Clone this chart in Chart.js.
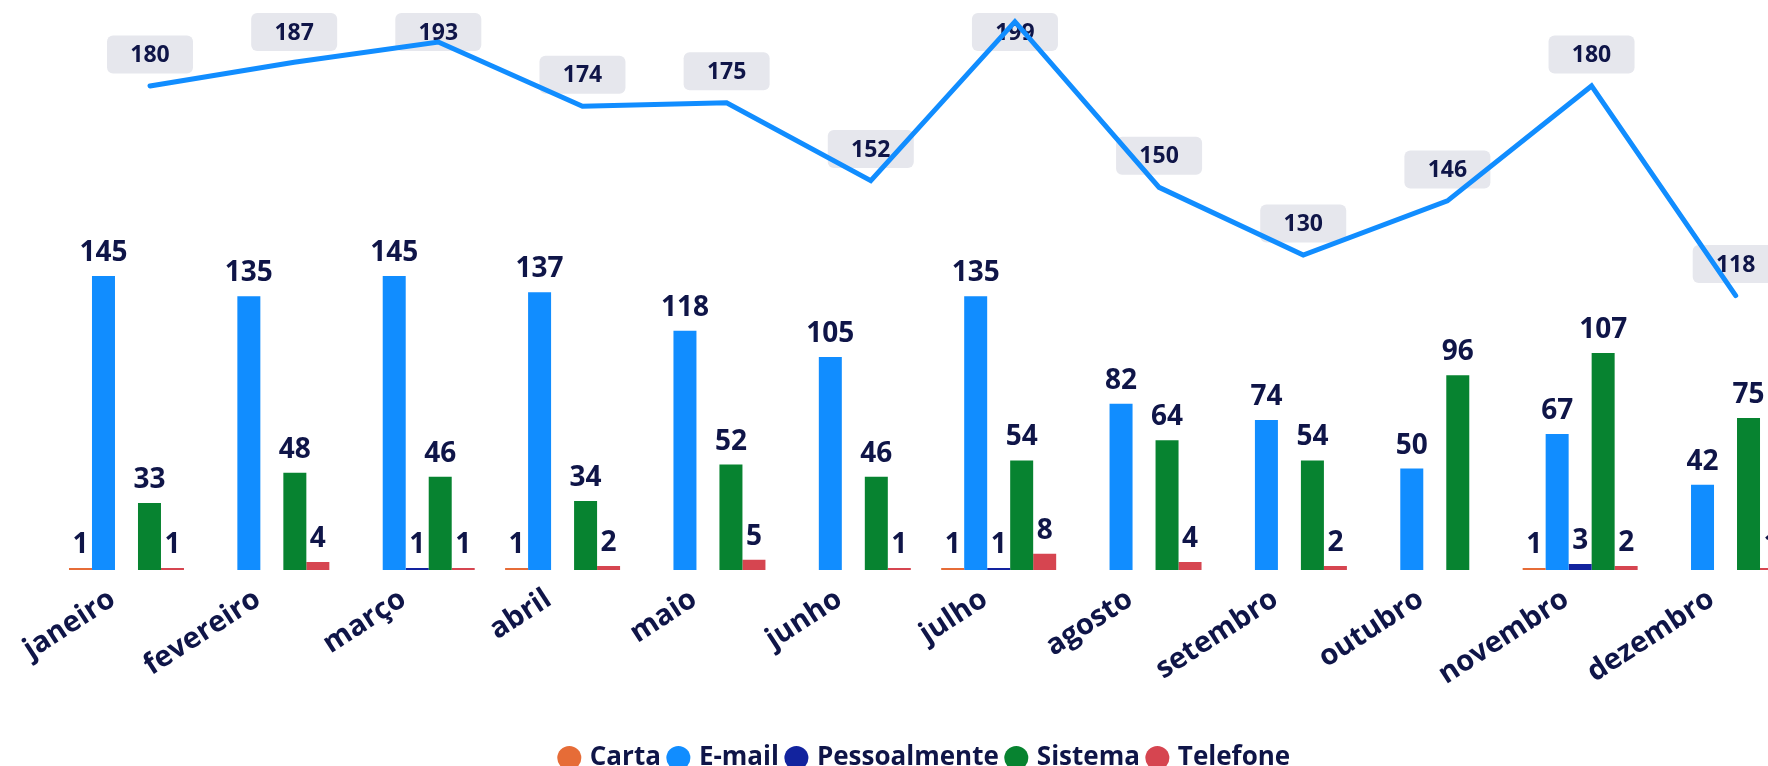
<!DOCTYPE html>
<html><head><meta charset="utf-8">
<script src="https://cdn.jsdelivr.net/npm/chart.js@4.4.1/dist/chart.umd.min.js"></script>
<style>
html,body{margin:0;padding:0;background:#fff;overflow:hidden;}
.layer{position:absolute;left:0;top:0;width:1800px;height:766px;}
#top{pointer-events:none;}
</style></head><body>
<div class="layer"><canvas id="bars"></canvas></div>
<div class="layer" id="top"><canvas id="line"></canvas></div>
<script>
const months = ['janeiro','fevereiro','março','abril','maio','junho','julho','agosto','setembro','outubro','novembro','dezembro'];
const carta = [1,null,null,1,null,null,1,null,null,null,1,null];
const email = [145,135,145,137,118,105,135,82,74,50,67,42];
const pessoalmente = [null,null,1,null,null,null,1,null,null,null,3,null];
const sistema = [33,48,46,34,52,46,54,64,54,96,107,75];
const telefone = [1,4,1,2,5,1,8,4,2,null,2,1];
const total = [180,187,193,174,175,152,199,150,130,146,180,118];

const NAVY = '#0f1548';
const FONT = '"Open Sans", "Noto Sans", sans-serif';
const PAD = { left: 53.8, right: 1.8, top: 13 };

const barLabels = {
  id: 'barLabels',
  afterDatasetsDraw(chart) {
    const ctx = chart.ctx;
    ctx.save();
    ctx.font = 'bold 28px ' + FONT;
    ctx.fillStyle = NAVY;
    ctx.textAlign = 'center';
    ctx.textBaseline = 'alphabetic';
    chart.data.datasets.forEach((ds, i) => {
      const meta = chart.getDatasetMeta(i);
      meta.data.forEach((el, j) => {
        const v = ds.data[j];
        if (v == null) return;
        ctx.fillText(String(v), el.x, el.y - 15);
      });
    });
    ctx.restore();
  }
};

const lineLabels = {
  id: 'lineLabels',
  beforeDatasetsDraw(chart) {
    const ctx = chart.ctx;
    const top = chart.chartArea.top;
    ctx.save();
    chart.data.datasets.forEach((ds, i) => {
      const meta = chart.getDatasetMeta(i);
      meta.data.forEach((el, j) => {
        const w = 86, h = 38;
        let y0 = el.y - 12.5 - h;
        if (y0 < top) y0 = top;
        const x0 = el.x - w / 2;
        ctx.fillStyle = '#e6e7ed';
        ctx.beginPath();
        ctx.roundRect(x0, y0, w, h, 6);
        ctx.fill();
        ctx.font = 'bold 23px ' + FONT;
        ctx.fillStyle = NAVY;
        ctx.textAlign = 'center';
        ctx.textBaseline = 'middle';
        ctx.fillText(String(ds.data[j].y), el.x, y0 + h / 2 + 1);
      });
    });
    ctx.restore();
  }
};

const mkBar = (label, data, color) => ({
  label, data, backgroundColor: color, borderWidth: 0,
  categoryPercentage: 0.791, barPercentage: 1.0
});

new Chart(document.getElementById('bars'), {
  type: 'bar',
  data: {
    labels: months,
    datasets: [
      mkBar('Carta', carta, '#E66C37'),
      mkBar('E-mail', email, '#118DFF'),
      mkBar('Pessoalmente', pessoalmente, '#12239E'),
      mkBar('Sistema', sistema, '#078330'),
      mkBar('Telefone', telefone, '#D64550')
    ]
  },
  options: {
    responsive: true, maintainAspectRatio: false, animation: false,
    devicePixelRatio: 1,
    layout: { padding: { left: PAD.left, right: PAD.right, top: PAD.top, bottom: -15 } },
    plugins: {
      tooltip: { enabled: false },
      legend: {
        position: 'bottom',
        labels: {
          usePointStyle: true, pointStyle: 'circle', boxWidth: 15, boxHeight: 17,
          padding: 10, color: NAVY, font: { family: FONT, size: 26, weight: 'bold' }
        }
      }
    },
    scales: {
      x: {
        type: 'category', offset: true,
        grid: { display: false }, border: { display: false },
        ticks: { color: NAVY, font: { family: FONT, size: 29, weight: 'bold' },
                 minRotation: 33, maxRotation: 33, autoSkip: false, padding: 4, labelOffset: -14 },
        afterFit(scale) {
          const lg = scale.chart.legend;
          scale.height = scale.chart.height - 570 - (lg ? lg.height : 0) + 15;
        }
      },
      y: { display: false, min: 0, max: 274.65 }
    }
  },
  plugins: [barLabels]
});

new Chart(document.getElementById('line'), {
  type: 'line',
  data: {
    datasets: [{
      label: 'Total', data: total.map((v, i) => ({x: i, y: v})),
      borderColor: '#118DFF', backgroundColor: '#118DFF', borderWidth: 5,
      pointRadius: 0, tension: 0, borderCapStyle: 'round', borderJoinStyle: 'miter',
      clip: false
    }]
  },
  options: {
    responsive: true, maintainAspectRatio: false, animation: false,
    devicePixelRatio: 1,
    layout: { padding: { left: PAD.left, right: PAD.right, top: PAD.top, bottom: 766 - 570 } },
    plugins: { tooltip: { enabled: false }, legend: { display: false } },
    scales: {
      x: { type: 'linear', display: false, min: -0.6674, max: 11.4336, offset: false },
      y: { display: false, min: 36.83, max: 201.57 }
    }
  },
  plugins: [lineLabels]
});
</script>
</body></html>
